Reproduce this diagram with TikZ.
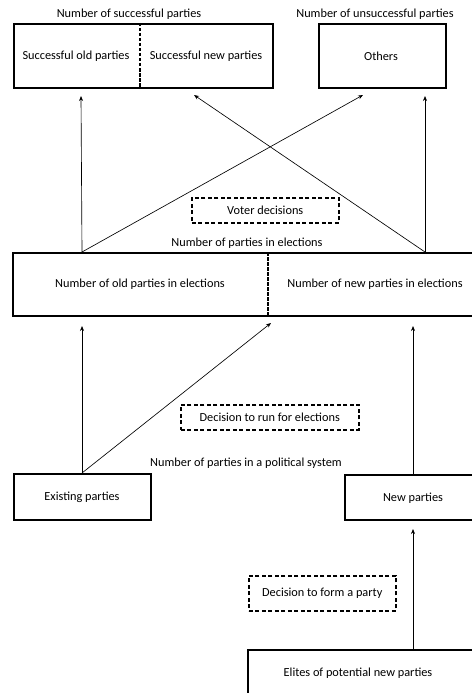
\documentclass[tikz,border=0pt]{standalone}
\usepackage{fontspec}
\setmainfont{Carlito}
\usetikzlibrary{arrows.meta}
\begin{document}
\begin{tikzpicture}[x=1pt,y=-1pt,
  every node/.style={font=\fontsize{12.3}{14}\selectfont, inner sep=0pt},
  box/.style={draw, line width=1.9pt, anchor=north west},
  dbox/.style={draw, line width=1.5pt, dash pattern=on 4pt off 2.5pt, anchor=north west},
  divider/.style={line width=1.5pt, dash pattern=on 3.5pt off 1.5pt},
  arr/.style={line width=0.65pt, -{Stealth[length=5pt,width=4pt]}},
  ln/.style={line width=0.6pt}]
\useasboundingbox (0,0) rectangle (471,693);
% top boxes
\node[box, minimum width=259pt, minimum height=64pt] (succ) at (13,23) {};
\node[box, minimum width=127pt, minimum height=64pt] (others) at (318,23) {};
\draw[divider] (140,23) -- (140,87);
\node (succold) at (76,56) {Successful old parties};
\node (succnew) at (206,56) {Successful new parties};
\node (otherst) at (381,56) {Others};
\node (lsucc) at (129,14) {Number of successful parties};
\node (lunsucc) at (375,14) {Number of unsuccessful parties};
% middle box
\node[box, minimum width=470pt, minimum height=63pt] (elect) at (12,252) {};
\draw[divider] (268,252) -- (268,315);
\node (oldel) at (140,284) {Number of old parties in elections};
\node (newel) at (375,284) {Number of new parties in elections};
\node (lelect) at (247,243) {Number of parties in elections};
\node[dbox, minimum width=147pt, minimum height=25pt] (voter) at (191,197) {};
\node at (voter.center) {Voter decisions};
% bottom boxes
\node[box, minimum width=137pt, minimum height=46pt] (exist) at (13,473) {};
\node (existt) at (82,497) {Existing parties};
\node[box, minimum width=140pt, minimum height=45pt] (newp) at (344,474) {};
\node (newpt) at (413,498) {New parties};
\node (lsys) at (246,463) {Number of parties in a political system};
\node[dbox, minimum width=178pt, minimum height=25pt] (run) at (180,404) {};
\node at (run.center) {Decision to run for elections};
\node[dbox, minimum width=147pt, minimum height=35pt] (form) at (248,575) {};
\node at (form.center) {Decision to form a party};
\node[box, minimum width=240pt, minimum height=60pt] (elite) at (247,649) {};
\node (elitet) at (358,673) {Elites of potential new parties};
% connector points
\coordinate (e1) at (82,252);
\coordinate (e2) at (425,252);
\coordinate (s1) at (81,96);
\coordinate (s2) at (194,95);
\coordinate (o1) at (363,95);
\coordinate (o2) at (425,96);
\coordinate (x1) at (82,473);
\coordinate (n1) at (413,474);
\coordinate (m1) at (82,326);
\coordinate (m2) at (271,323);
\coordinate (m3) at (413,326);
\coordinate (el1) at (413,649);
\coordinate (np1) at (413,529);
\draw[arr] (e1) -- (s1);
\draw[arr] (e1) -- (o1);
\draw[arr] (e2) -- (s2);
\draw[arr] (e2) -- (o2);
\draw[arr] (x1) -- (m1);
\draw[arr] (x1) -- (m2);
\draw[arr] (n1) -- (m3);
\draw[arr] (el1) -- (np1);
\end{tikzpicture}
\end{document}
